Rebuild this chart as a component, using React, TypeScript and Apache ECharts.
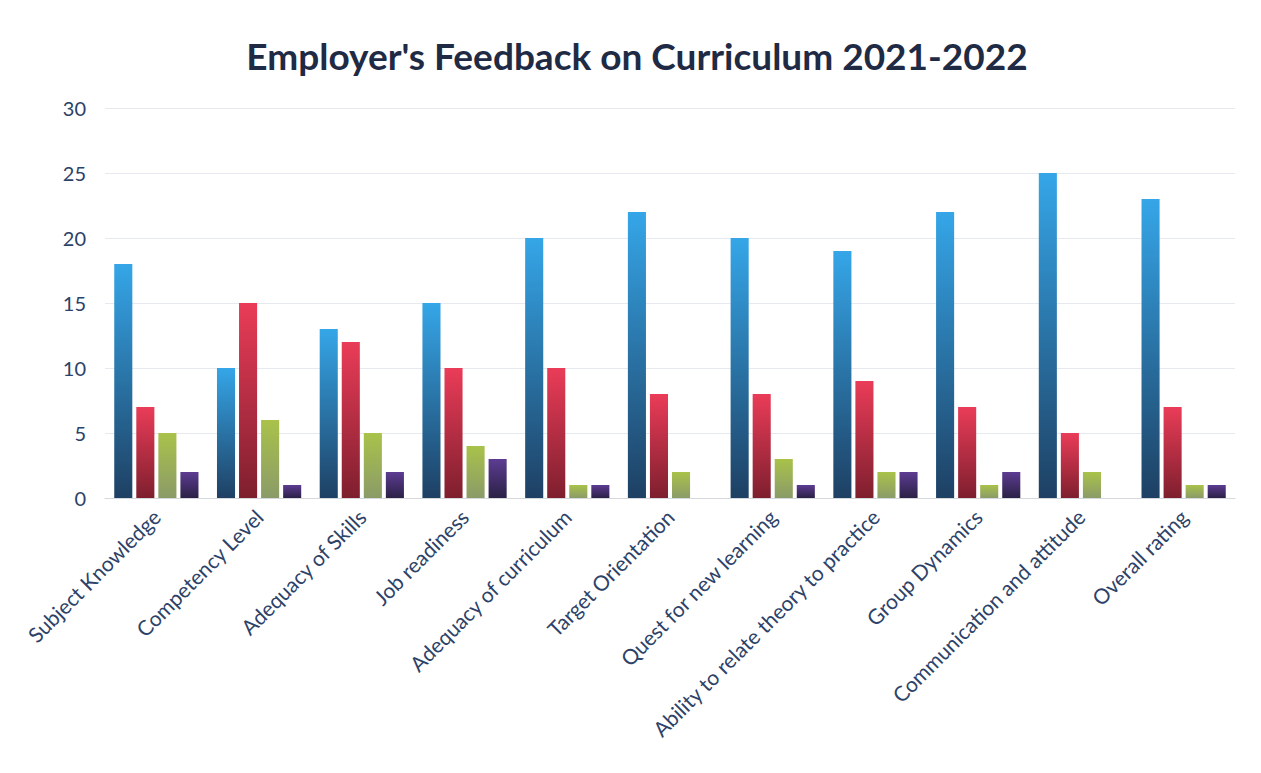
import React, { useEffect, useRef } from "react";
import * as echarts from "echarts";

const categories = [
  "Subject Knowledge",
  "Competency Level",
  "Adequacy of Skills",
  "Job readiness",
  "Adequacy of curriculum",
  "Target Orientation",
  "Quest for new learning",
  "Ability to relate theory to practice",
  "Group Dynamics",
  "Communication and attitude",
  "Overall rating",
];
const seriesBlue = [18, 10, 13, 15, 20, 22, 20, 19, 22, 25, 23];
const seriesRed = [7, 15, 12, 10, 10, 8, 8, 9, 7, 5, 7];
const seriesGreen = [5, 6, 5, 4, 1, 2, 3, 2, 1, 2, 1];
const seriesPurple = [2, 1, 2, 3, 1, 0, 1, 2, 2, 0, 1];
const yTicks = { min: 0, max: 30, interval: 5 };

const grad = (top: string, bottom: string) =>
  new echarts.graphic.LinearGradient(0, 0, 0, 1, [
    { offset: 0, color: top },
    { offset: 1, color: bottom },
  ]);

export default function App() {
  const ref = useRef<HTMLDivElement>(null);
  useEffect(() => {
    if (!ref.current) return;
    const chart = echarts.init(ref.current, undefined, { renderer: "svg" });
    const mk = (name: string, data: number[], top: string, bottom: string) => ({
      name,
      type: "bar",
      data,
      barGap: "22%",
      barCategoryGap: "18%",
      itemStyle: { color: grad(top, bottom) },
    });
    chart.setOption({
      animation: false,
      backgroundColor: "#ffffff",
      title: {
        text: "Employer's Feedback on Curriculum 2021-2022",
        left: 632,
        textAlign: "center",
        top: 32,
        textStyle: {
          fontFamily: "Lato",
          fontWeight: "bold",
          fontSize: 37,
          color: "#1f2b45",
        },
      },
      grid: { left: 105, right: 26, top: 108, bottom: 275, containLabel: false },
      xAxis: {
        type: "category",
        data: categories,
        axisLine: { show: true, lineStyle: { color: "#d5d9de", width: 1 } },
        axisTick: { show: false },
        axisLabel: {
          rotate: 45,
          interval: 0,
          margin: 15,
          fontFamily: "Lato",
          fontSize: 21,
          color: "#2c4268",
        },
      },
      yAxis: {
        type: "value",
        min: yTicks.min,
        max: yTicks.max,
        interval: yTicks.interval,
        axisLine: { show: false },
        axisTick: { show: false },
        splitLine: { lineStyle: { color: "#e6e9ef", width: 1 } },
        axisLabel: {
          margin: 19,
          fontFamily: "Lato",
          fontSize: 20,
          color: "#2c4268",
        },
      },
      series: [
        mk("Series 1", seriesBlue, "#35a6e8", "#1e4063"),
        mk("Series 2", seriesRed, "#ea3c58", "#7e1f2e"),
        mk("Series 3", seriesGreen, "#a9c24a", "#8b9b68"),
        mk("Series 4", seriesPurple, "#5d3c92", "#2b2146"),
      ],
    });
    return () => chart.dispose();
  }, []);
  return (
    <div
      ref={ref}
      style={{ position: "absolute", left: 0, top: 0, width: 1261, height: 773 }}
    />
  );
}
